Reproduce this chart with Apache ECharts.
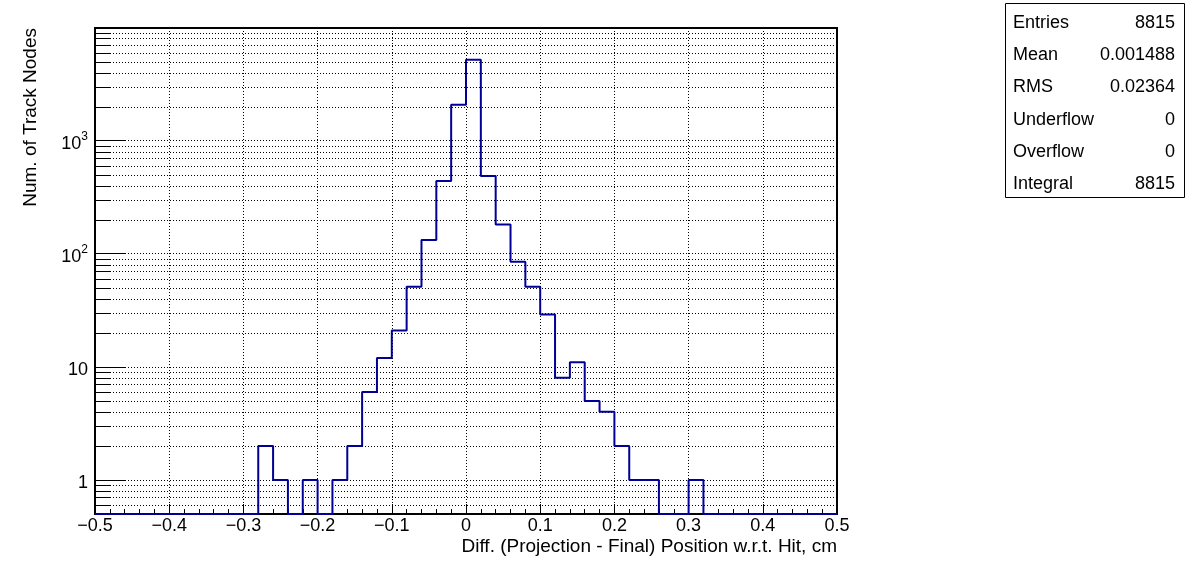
<!DOCTYPE html>
<html><head><meta charset="utf-8">
<script src="https://cdn.jsdelivr.net/npm/echarts@6/dist/echarts.min.js"></script>
<style>html,body{margin:0;padding:0;background:#fff}#c{width:1196px;height:572px}</style>
</head><body><div id="c"></div>
<script>
// ---- data ----
const binEdges = [-0.50,-0.48,-0.46,-0.44,-0.42,-0.40,-0.38,-0.36,-0.34,-0.32,
  -0.30,-0.28,-0.26,-0.24,-0.22,-0.20,-0.18,-0.16,-0.14,-0.12,
  -0.10,-0.08,-0.06,-0.04,-0.02,0.00,0.02,0.04,0.06,0.08,
  0.10,0.12,0.14,0.16,0.18,0.20,0.22,0.24,0.26,0.28,
  0.30,0.32,0.34,0.36,0.38,0.40,0.42,0.44,0.46,0.48,0.50];
const binCounts = [0,0,0,0,0,0,0,0,0,0,
  0,2,1,0,1,0,1,2,6,12,
  21,51,132,440,2080,5200,487,181,85,51,
  29,8,11,5,4,2,1,1,0,0,
  1,0,0,0,0,0,0,0,0,0];
const yDecades = [1,10,100,1000];
const yMinorMultipliers = [2,3,4,5,6,7,8,9];
const statLabels = ['Entries','Mean','RMS','Underflow','Overflow','Integral'];
const statValues = ['8815','0.001488','0.02364','0','0','8815'];
const xTitle = 'Diff. (Projection - Final) Position w.r.t. Hit, cm';
const yTitle = 'Num. of Track Nodes';

const XMIN = -0.5, XMAX = 0.5, YMIN = 0.5, YMAX = 9900;
const FONT = '"Liberation Sans", Arial, Helvetica, sans-serif';
const HCOL = '#000099';

// histogram outline points (zero bins drawn along the frame bottom, as ROOT clips them)
const histPts = [];
for (let i = 0; i < binCounts.length; i++) {
  histPts.push([binEdges[i], binCounts[i] > 0 ? binCounts[i] : YMIN]);
}
histPts.push([binEdges[binEdges.length - 1], binCounts[binCounts.length - 1] > 0 ? binCounts[binCounts.length - 1] : YMIN]);

// minor y tick values (0.6..0.9 and 2..9 x each decade)
const yMinor = [0.6, 0.7, 0.8, 0.9];
yDecades.forEach(d => yMinorMultipliers.forEach(m => { if (m * d < YMAX) yMinor.push(m * d); }));

const chart = echarts.init(document.getElementById('c'), null, {renderer: 'canvas'});

function fmtX(v) {
  const r = Math.round(v * 10) / 10;
  if (Math.abs(r) < 1e-9) return '0';
  return (r < 0 ? '\u2212' : '') + Math.abs(r).toFixed(1);
}
function fmtY(v) {
  const l = Math.log10(v);
  const k = Math.round(l);
  if (Math.abs(l - k) > 1e-6 || k < 0 || Math.abs(v - YMAX) < 1e-6) return '';
  if (k === 0) return '{b|1}';
  if (k === 1) return '{b|10}';
  return '{b|10}{s|' + k + '}';
}

const graphics = [
  {type: 'text', x: 837, y: 547, style: {text: xTitle, font: '19px ' + FONT, fill: '#000', textAlign: 'right', textVerticalAlign: 'middle'}},
  {type: 'text', x: 31, y: 28, rotation: Math.PI / 2, style: {text: yTitle, font: '19px ' + FONT, fill: '#000', textAlign: 'right', textVerticalAlign: 'middle'}},
  {type: 'rect', shape: {x: 1005.5, y: 3.5, width: 179, height: 194}, style: {fill: '#fff', stroke: '#000', lineWidth: 1}}
];
statLabels.forEach((s, i) => {
  const y = 23 + i * 32.2;
  graphics.push({type: 'text', x: 1013, y: y, style: {text: s, font: '18px ' + FONT, fill: '#000', textAlign: 'left', textVerticalAlign: 'middle'}});
  graphics.push({type: 'text', x: 1175, y: y, style: {text: statValues[i], font: '18px ' + FONT, fill: '#000', textAlign: 'right', textVerticalAlign: 'middle'}});
});

const option = {
  animation: false,
  backgroundColor: '#fff',
  textStyle: {fontFamily: FONT},
  grid: {left: 95, right: 359, top: 28, bottom: 58, show: true, borderColor: '#000', borderWidth: 2, backgroundColor: 'transparent'},
  xAxis: {
    type: 'value', min: XMIN, max: XMAX, interval: 0.1,
    axisLine: {show: true, onZero: false, lineStyle: {color: '#000', width: 2}},
    axisTick: {show: true, inside: true, length: 10, lineStyle: {color: '#000', width: 1}},
    minorTick: {show: true, splitNumber: 5, length: 5, lineStyle: {color: '#000', width: 1}},
    splitLine: {show: true, lineStyle: {color: '#000', width: 1, type: [1, 2]}},
    axisLabel: {formatter: fmtX, fontSize: 18, margin: 3, color: '#000', fontFamily: FONT, showMinLabel: true, showMaxLabel: true}
  },
  yAxis: {
    type: 'log', logBase: 10, min: YMIN, max: YMAX,
    axisLine: {show: true, onZero: false, lineStyle: {color: '#000', width: 2}},
    axisTick: {show: true, inside: true, length: 31, lineStyle: {color: '#000', width: 1}},
    splitLine: {show: true, lineStyle: {color: '#000', width: 1, type: [1, 2]}},
    axisLabel: {
      formatter: fmtY, margin: 7, color: '#000', fontFamily: FONT,
      rich: {
        b: {fontSize: 18, fontFamily: FONT, color: '#000', verticalAlign: 'bottom', padding: [6, 0, 0, 0]},
        s: {fontSize: 12, fontFamily: FONT, color: '#000', verticalAlign: 'bottom', padding: [0, 0, 10, 0]}
      }
    }
  },
  graphic: graphics,
  series: [
    {
      type: 'custom', silent: true, clip: false,
      data: yMinor.map(v => [XMIN, v]),
      renderItem: function (params, api) {
        const v = api.value(1);
        const p = api.coord([XMIN, v]);
        const q = api.coord([XMAX, v]);
        const y = Math.round(p[1]) + 0.5;
        return {type: 'group', children: [
          {type: 'line', shape: {x1: p[0], y1: y, x2: q[0], y2: y}, style: {stroke: '#000', lineWidth: 1, lineDash: [1, 2]}},
          {type: 'line', shape: {x1: p[0], y1: y, x2: p[0] + 16, y2: y}, style: {stroke: '#000', lineWidth: 1}}
        ]};
      }
    },
    {
      type: 'line', step: 'end', data: histPts, symbol: 'none', silent: true,
      lineStyle: {color: HCOL, width: 2}, itemStyle: {color: HCOL}, z: 5
    }
  ]
};
chart.setOption(option);
</script>
</body></html>
